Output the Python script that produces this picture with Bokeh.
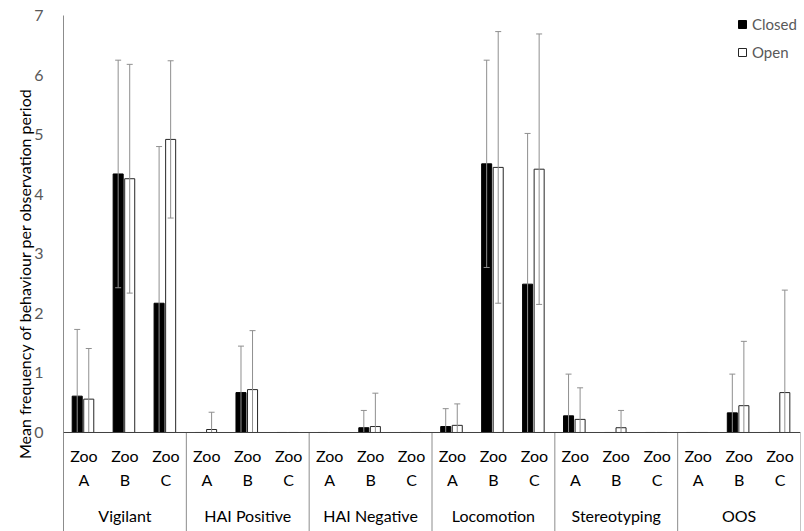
from bokeh.plotting import figure
from bokeh.models import Range1d, FixedTicker, Span, Legend, LegendItem
from bokeh.core.properties import value
from bokeh.embed import file_html
from bokeh.resources import INLINE

# ---- data ----
behaviours = ["Vigilant", "HAI Positive", "HAI Negative", "Locomotion", "Stereotyping", "OOS"]
zoos = ["A", "B", "C"]

closed_mean = [0.61, 4.34, 2.17,   0.00, 0.67, 0.00,   0.00, 0.08, 0.00,
               0.10, 4.51, 2.49,   0.28, 0.00, 0.00,   0.00, 0.33, 0.00]
closed_err = [1.12, 1.91, 2.63,   0.00, 0.78, 0.00,   0.00, 0.29, 0.00,
              0.30, 1.74, 2.53,   0.70, 0.00, 0.00,   0.00, 0.65, 0.00]
open_mean = [0.56, 4.26, 4.92,   0.05, 0.72, 0.00,   0.00, 0.10, 0.00,
             0.12, 4.45, 4.42,   0.22, 0.08, 0.00,   0.00, 0.45, 0.67]
open_err = [0.85, 1.92, 1.32,   0.29, 0.99, 0.00,   0.00, 0.56, 0.00,
            0.36, 2.28, 2.27,   0.53, 0.29, 0.00,   0.00, 1.08, 1.72]

y_ticks = [0, 1, 2, 3, 4, 5, 6, 7]

FONT = "Lato"
n = len(closed_mean)
idx = list(range(n))
Y0 = -1.662

p = figure(width=804, height=531, output_backend="svg", toolbar_location=None,
           x_range=Range1d(0, n), y_range=Range1d(Y0, 7),
           x_axis_location=None, min_border_left=63, min_border_right=4,
           min_border_top=15, min_border_bottom=0)
p.outline_line_color = None
p.grid.visible = False

# y axis
ax = p.yaxis[0]
ax.ticker = FixedTicker(ticks=y_ticks)
ax.major_tick_line_color = None
ax.minor_tick_line_color = None
ax.axis_line_color = "#8c8c8c"
ax.major_label_text_font = FONT
ax.major_label_text_font_size = "16px"
ax.major_label_text_color = "#595959"
ax.major_label_standoff = 14
ax.axis_label = "Mean frequency of behaviour per observation period"
ax.axis_label_text_font = FONT
ax.axis_label_text_font_size = "16px"
ax.axis_label_text_font_style = "normal"
ax.axis_label_text_color = "#000000"
ax.axis_label_standoff = -3

# bars
cx = [i + 0.335 for i in idx]
ox = [i + 0.617 for i in idx]
bw = 0.245
r_closed = p.vbar(x=cx, top=closed_mean, bottom=0, width=bw,
                  fill_color="black", line_color="black", line_width=1)
r_open = p.vbar(x=ox, top=open_mean, bottom=0, width=bw,
                fill_color="white", line_color="#262626", line_width=1)

# error bars (drawn over bars, clipped at 0)
ex, elo, ehi, lcx, lcy = [], [], [], [], []
for xs, m, e in ((cx, closed_mean, closed_err), (ox, open_mean, open_err)):
    for xv, mv, ev in zip(xs, m, e):
        if ev > 0:
            lo = mv - ev
            ex.append(xv)
            elo.append(max(lo, 0))
            ehi.append(mv + ev)
            if lo > 0:
                lcx.append(xv)
                lcy.append(lo)
ERR = "#8f8f8f"
p.segment(x0=ex, y0=elo, x1=ex, y1=ehi, line_color=ERR, line_width=1)
p.scatter(x=ex, y=ehi, marker="dash", size=6, line_color=ERR, line_width=1)
p.scatter(x=lcx, y=lcy, marker="dash", size=6, line_color=ERR, line_width=1)

# x baseline
p.add_layout(Span(location=0, dimension="width", line_color="#404040", line_width=1))

# group separators
sep_x = [3 * g for g in range(1, len(behaviours) + 1)]
p.segment(x0=sep_x, y0=[0] * len(sep_x), x1=sep_x, y1=[Y0] * len(sep_x),
          line_color="#8c8c8c", line_width=1)

# category labels
lab_x = [i + 0.5 for i in idx]
p.text(x=lab_x, y=[-0.381] * n, text=["Zoo"] * n, text_align="center",
       text_baseline="alphabetic", text_font=value(FONT), text_font_size="16px",
       text_color="black")
p.text(x=lab_x, y=[-0.784] * n, text=[zoos[i % 3] for i in idx], text_align="center",
       text_baseline="alphabetic", text_font=value(FONT), text_font_size="16px",
       text_color="black")
g_x = [3 * g + 1.5 for g in range(len(behaviours))]
p.text(x=g_x, y=[-1.388] * len(behaviours), text=behaviours, text_align="center",
       text_baseline="alphabetic", text_font=value(FONT), text_font_size="16px",
       text_color="black")

legend = Legend(items=[LegendItem(label="Closed", renderers=[r_closed]),
                       LegendItem(label="Open", renderers=[r_open])],
                location=(674, 469), glyph_width=10, glyph_height=10,
                label_standoff=5, label_height=20, spacing=8, padding=0, margin=0,
                border_line_color=None, background_fill_alpha=0,
                label_text_font=FONT, label_text_font_size="15px",
                label_text_color="#595959")
p.add_layout(legend)

open("out.html", "w").write(file_html(p, INLINE))
